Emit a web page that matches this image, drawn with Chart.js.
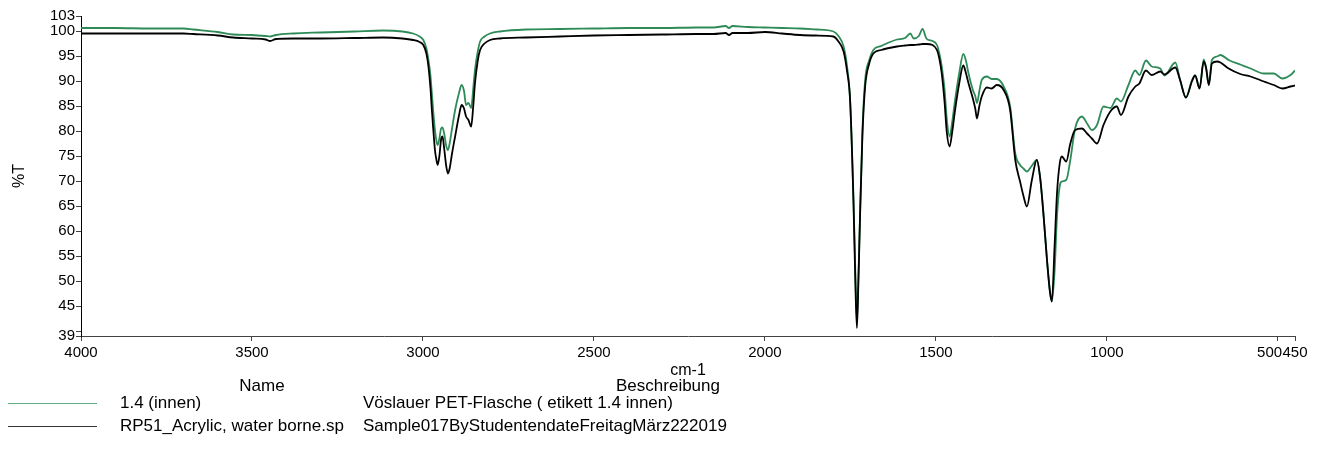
<!DOCTYPE html>
<html lang="de">
<head>
    <meta charset="UTF-8">
    <title>IR Spektrum</title>
    <script src="https://cdn.jsdelivr.net/npm/chart.js"></script>
    <style>
        body {
            margin: 0;
            background: #fff;
            font-family: Arial, "Liberation Sans", sans-serif;
        }
        .page {
            position: relative;
            width: 1324px;
            height: 464px;
            overflow: hidden;
        }
        .chart-box {
            position: absolute;
            left: 0;
            top: 0;
            width: 1324px;
            height: 384px;
        }
        .lg {
            position: absolute;
            font-size: 17px;
            color: #000;
            white-space: nowrap;
            line-height: 20px;
        }
        .lg-head {
            transform: translateX(-50%);
        }
        .lg-line {
            position: absolute;
            height: 1px;
        }
    </style>
</head>
<body>
    <div class="page">
        <div class="chart-box">
            <canvas id="irChart"></canvas>
        </div>

        <!-- legend table below the chart -->
        <div class="lg lg-head" style="left:262px; top:376px;">Name</div>
        <div class="lg lg-head" style="left:668px; top:376px;">Beschreibung</div>

        <div class="lg-line" style="left:8px; width:89px; top:403px; background:#5fae80;"></div>
        <div class="lg" id="name0" style="left:120px; top:393px;"></div>
        <div class="lg" id="desc0" style="left:363px; top:393px;"></div>

        <div class="lg-line" style="left:8px; width:89px; top:426px; background:#333;"></div>
        <div class="lg" id="name1" style="left:120px; top:416px;"></div>
        <div class="lg" id="desc1" style="left:363px; top:416px;"></div>
    </div>

    <script>
        // Wavenumbers (cm-1) shared by both spectra
        const wavenumbers = [
            4000, 3900, 3800, 3700, 3672, 3600, 3555, 3500, 3460, 3447,
            3430, 3380, 3300, 3200, 3117, 3060, 3029, 3010, 2999, 2990,
            2984, 2978, 2974, 2970, 2965, 2960, 2957, 2952, 2947, 2943,
            2938, 2932, 2927, 2922, 2915, 2906, 2895, 2887, 2880, 2874,
            2867, 2859, 2853, 2848, 2840, 2833, 2820, 2804, 2775, 2700,
            2600, 2500, 2400, 2300, 2200, 2150, 2115, 2105, 2095, 2050,
            2000, 1950, 1897, 1850, 1800, 1785, 1770, 1760, 1751, 1741,
            1735, 1731, 1727, 1722, 1715, 1707, 1695, 1683, 1660, 1644,
            1614, 1590, 1575, 1565, 1550, 1539, 1528, 1510, 1497, 1490,
            1483, 1475, 1468, 1460, 1452, 1444, 1432, 1420, 1412, 1405,
            1392, 1385, 1380, 1373, 1366, 1351, 1337, 1322, 1302, 1283,
            1268, 1254, 1244, 1234, 1220, 1205, 1195, 1185, 1175, 1166,
            1161, 1153, 1146, 1138, 1132, 1119, 1107, 1093, 1073, 1058,
            1044, 1029, 1010, 990, 971, 959, 937, 917, 905, 886,
            869, 844, 832, 800, 786, 769, 751, 742, 729, 717,
            710, 702, 693, 678, 668, 644, 610, 580, 541, 512,
            487, 463, 450
        ];

        // %T of "1.4 (innen)" (green)
        const petValues = [
            100.6, 100.6, 100.5, 100.5, 100.3, 99.8, 99.3, 99.2, 99.0, 98.9,
            99.2, 99.5, 99.7, 99.9, 100.1, 99.9, 99.5, 98.9, 98.2, 96.5,
            94.2, 91.0, 87.5, 84.0, 80.2, 77.8, 77.2, 78.5, 80.5, 80.7,
            79.5, 77.0, 76.2, 77.5, 80.5, 84.2, 87.5, 89.2, 88.0, 85.2,
            85.6, 84.6, 88.5, 92.2, 95.8, 97.9, 98.9, 99.5, 99.9, 100.3,
            100.4, 100.5, 100.6, 100.6, 100.7, 100.7, 101.0, 100.6, 101.0, 100.8,
            100.7, 100.6, 100.5, 100.3, 99.9, 99.0, 96.9, 93.0, 86.2, 66.2,
            50.0, 42.2, 50.0, 62.8, 80.0, 90.2, 94.2, 96.2, 97.0, 97.5,
            98.3, 98.6, 99.5, 98.5, 99.0, 100.4, 98.5, 98.0, 97.2, 95.5,
            92.9, 88.5, 82.2, 78.9, 82.0, 86.2, 91.5, 95.4, 94.0, 91.6,
            88.2, 87.0, 85.6, 88.0, 90.2, 90.9, 90.4, 90.4, 88.9, 84.9,
            75.5, 73.2, 72.5, 71.9, 73.0, 74.2, 70.5, 62.9, 54.0, 47.5,
            45.9, 52.0, 62.9, 69.0, 69.9, 70.2, 74.2, 80.5, 82.9, 81.5,
            80.2, 81.2, 84.9, 84.6, 86.5, 85.9, 89.2, 92.1, 91.2, 94.1,
            92.9, 92.5, 91.1, 93.7, 90.2, 86.7, 90.2, 91.1, 88.5, 94.3,
            92.6, 89.2, 94.2, 94.9, 95.2, 94.2, 93.3, 92.5, 91.5, 91.5,
            90.5, 91.2, 92.1
        ];

        // %T of "RP51_Acrylic, water borne.sp" (black)
        const acrylicValues = [
            99.5, 99.5, 99.5, 99.5, 99.4, 99.1, 98.7, 98.5, 98.3, 98.0,
            98.4, 98.5, 98.5, 98.6, 98.7, 98.5, 98.2, 97.8, 97.2, 95.5,
            92.9, 88.5, 84.2, 80.5, 76.2, 74.0, 73.2, 75.0, 78.3, 78.9,
            76.5, 73.0, 71.5, 72.5, 75.5, 78.9, 83.0, 85.2, 84.5, 82.9,
            82.2, 80.9, 85.0, 89.5, 94.0, 96.2, 97.5, 98.2, 98.5, 98.7,
            98.9, 99.1, 99.2, 99.3, 99.4, 99.4, 99.6, 99.2, 99.6, 99.6,
            99.8, 99.5, 99.2, 99.1, 98.9, 97.9, 95.9, 92.0, 86.2, 65.5,
            48.0, 40.6, 49.0, 62.8, 79.0, 88.9, 93.5, 95.5, 96.2, 96.5,
            96.9, 97.1, 97.2, 97.2, 97.3, 97.4, 97.4, 97.2, 96.2, 94.5,
            91.5, 86.0, 79.6, 76.9, 80.0, 84.2, 89.5, 93.1, 91.5, 89.6,
            86.5, 84.5, 82.5, 85.0, 86.9, 88.7, 88.5, 89.2, 88.2, 84.2,
            74.2, 69.9, 67.0, 64.9, 70.0, 74.2, 70.5, 62.9, 54.0, 47.5,
            45.9, 57.0, 67.5, 73.5, 74.9, 73.9, 77.5, 80.2, 80.5, 79.5,
            78.5, 77.5, 81.2, 83.9, 84.9, 83.2, 86.9, 88.9, 89.5, 92.1,
            91.2, 91.9, 91.3, 92.7, 90.2, 86.7, 90.0, 91.1, 88.5, 93.9,
            92.6, 89.2, 93.5, 93.9, 93.7, 92.5, 91.4, 90.9, 89.9, 89.2,
            88.5, 88.9, 89.1
        ];

        // Axis ticks
        const xTickValues = [4000, 3500, 3000, 2500, 2000, 1500, 1000, 500, 450];
        const yTickValues = [39, 40, 45, 50, 55, 60, 65, 70, 75, 80, 85, 90, 95, 100, 103];
        const yTickHidden = [40];

        // Legend table
        const seriesNames = ['1.4 (innen)', 'RP51_Acrylic, water borne.sp'];
        const seriesDescriptions = [
            'Vöslauer PET-Flasche ( etikett 1.4 innen)',
            'Sample017ByStudentendateFreitagMärz222019'
        ];

        const GREEN = '#2e8b57';
        const BLACK = '#000000';
        const FONT = 'Arial, "Liberation Sans", sans-serif';

        seriesNames.forEach((n, i) => {
            document.getElementById('name' + i).textContent = n;
            document.getElementById('desc' + i).textContent = seriesDescriptions[i];
        });

        function toPoints(values) {
            return wavenumbers.map((w, i) => ({ x: w, y: values[i] }));
        }

        Chart.defaults.font.family = FONT;
        Chart.defaults.color = '#000';

        const ctx = document.getElementById('irChart').getContext('2d');
        new Chart(ctx, {
            type: 'line',
            data: {
                datasets: [
                    {
                        label: seriesNames[1],
                        data: toPoints(acrylicValues),
                        borderColor: BLACK,
                        borderWidth: 1.8,
                        pointRadius: 0,
                        cubicInterpolationMode: 'monotone',
                        fill: false
                    },
                    {
                        label: seriesNames[0],
                        data: toPoints(petValues),
                        borderColor: GREEN,
                        borderWidth: 1.8,
                        pointRadius: 0,
                        cubicInterpolationMode: 'monotone',
                        fill: false
                    }
                ]
            },
            options: {
                responsive: true,
                maintainAspectRatio: false,
                animation: false,
                layout: {
                    padding: { top: 16, right: 29, left: 0, bottom: 0 }
                },
                plugins: {
                    legend: { display: false },
                    tooltip: { enabled: false }
                },
                scales: {
                    x: {
                        type: 'linear',
                        reverse: true,
                        min: 450,
                        max: 4000,
                        afterBuildTicks: scale => {
                            scale.ticks = xTickValues.map(v => ({ value: v }));
                        },
                        afterFit: scale => { scale.height = 48; },
                        grid: {
                            drawOnChartArea: false,
                            drawTicks: true,
                            tickLength: 5,
                            color: '#444'
                        },
                        border: { display: true, color: '#444', width: 1 },
                        ticks: {
                            autoSkip: false,
                            maxRotation: 0,
                            padding: 3,
                            font: { size: 15 },
                            // nudge "500" left so it reads as "500450" like the original
                            callback: value => value === 500 ? '500    ' : String(value)
                        },
                        title: {
                            display: true,
                            text: 'cm-1',
                            font: { size: 16 },
                            padding: { top: 0, bottom: 4 }
                        }
                    },
                    y: {
                        min: 39,
                        max: 103,
                        afterBuildTicks: scale => {
                            scale.ticks = yTickValues.map(v => ({ value: v }));
                        },
                        afterFit: scale => { scale.width = 81; },
                        grid: {
                            drawOnChartArea: false,
                            drawTicks: true,
                            tickLength: 5,
                            color: '#444'
                        },
                        border: { display: true, color: '#000', width: 1 },
                        ticks: {
                            autoSkip: false,
                            padding: 1,
                            font: { size: 15 },
                            callback: value => yTickHidden.includes(value) ? '' : String(value)
                        },
                        title: {
                            display: true,
                            text: '%T',
                            font: { size: 16 },
                            padding: { top: 10, bottom: 0 }
                        }
                    }
                }
            }
        });
    </script>
</body>
</html>
